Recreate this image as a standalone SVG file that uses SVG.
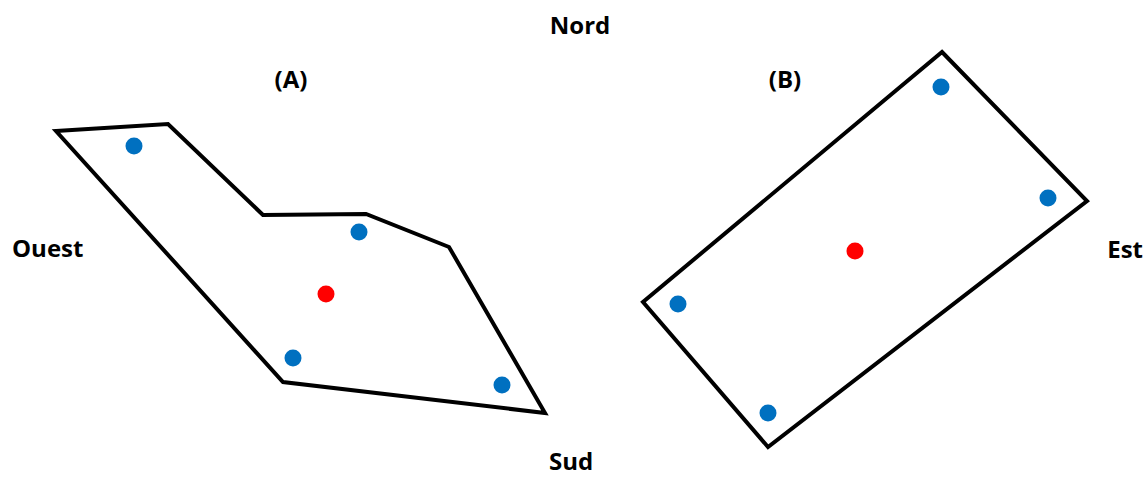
<svg xmlns="http://www.w3.org/2000/svg" width="1147" height="477" viewBox="0 0 1147 477">
<style>
.shape{fill:none;stroke:#000;stroke-width:4;stroke-linejoin:miter}
.pt{fill:#0070C0}
.c{fill:#FF0000}
.lbl{font-family:"Open Sans","Liberation Sans",sans-serif;font-weight:bold;font-size:24px;fill:#000}
</style>
<rect width="1147" height="477" fill="#fff"/>
<g id="labels">
<text class="lbl" x="580" y="34" text-anchor="middle">Nord</text>
<text class="lbl" x="571" y="470" text-anchor="middle">Sud</text>
<text class="lbl" x="12" y="257">Ouest</text>
<text class="lbl" x="1143" y="258" text-anchor="end">Est</text>
</g>
<g id="shapeA">
<text class="lbl" x="291" y="88" text-anchor="middle">(A)</text>
<polygon class="shape" points="56,131 168,124 263,215 366,214 449,247 545,413 283,382"/>
<circle class="pt" cx="134" cy="146" r="8.5"/>
<circle class="pt" cx="359" cy="232" r="8.5"/>
<circle class="pt" cx="293" cy="358" r="8.5"/>
<circle class="pt" cx="502" cy="385" r="8.5"/>
<circle class="c" cx="326" cy="294" r="8.5"/>
</g>
<g id="shapeB">
<text class="lbl" x="785" y="88" text-anchor="middle">(B)</text>
<polygon class="shape" points="942,52 1087,201 768,447 643,302"/>
<circle class="pt" cx="941" cy="87" r="8.5"/>
<circle class="pt" cx="1048" cy="198" r="8.5"/>
<circle class="pt" cx="678" cy="304" r="8.5"/>
<circle class="pt" cx="768" cy="413" r="8.5"/>
<circle class="c" cx="855" cy="251" r="8.5"/>
</g>
</svg>
